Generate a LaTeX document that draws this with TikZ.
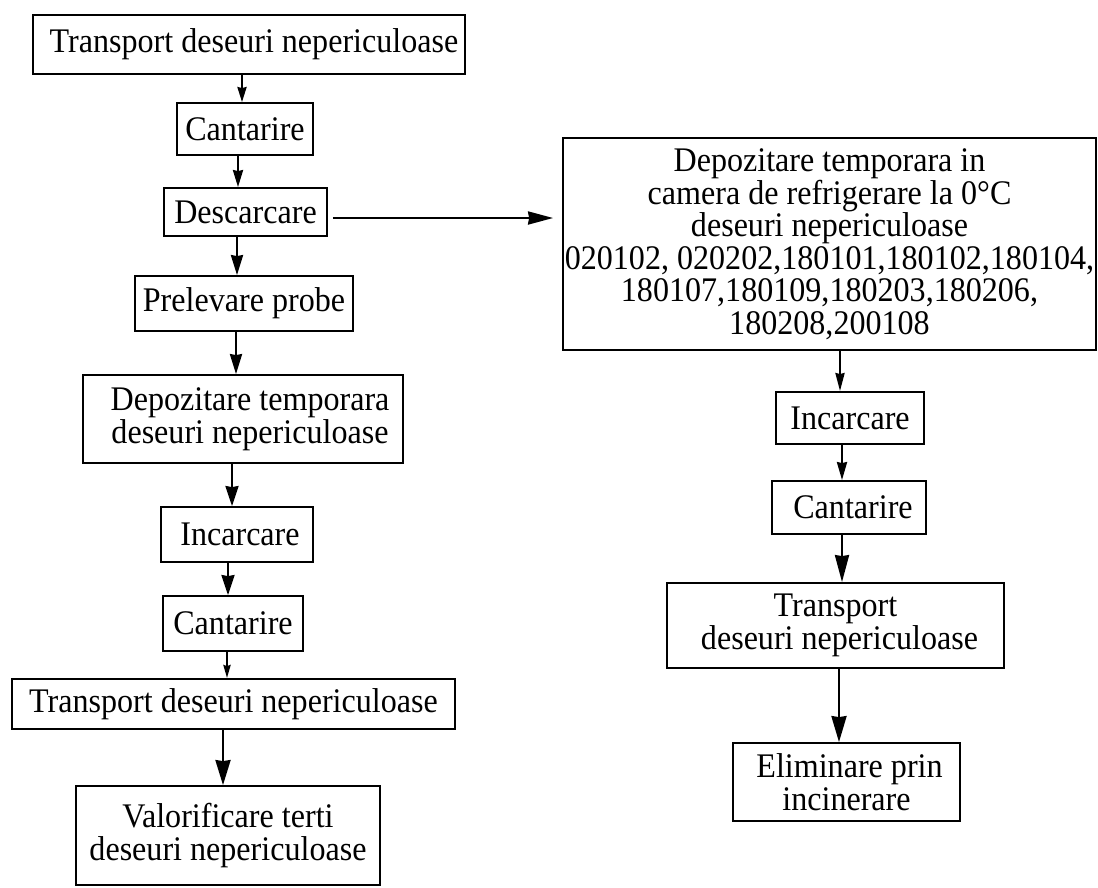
\documentclass[tikz,border=0pt]{standalone}
\usepackage{fontspec}
\setmainfont[FakeStretch=0.93]{Liberation Serif}
\usetikzlibrary{arrows.meta}
\begin{document}
\begin{tikzpicture}[x=1pt,y=-1pt,
  box/.style={draw,line width=1.8pt,rectangle,inner sep=0pt,align=center,
    font=\fontsize{34.5}{32.5}\selectfont},
  arr/.style 2 args={line width=2.4pt,-{Stealth[length=#1,width=#2,inset=1pt]}}]
\useasboundingbox (0,0) rectangle (1098,887);
% left column
\node[box,minimum width=432pt,minimum height=59pt] (t1) at (249,44.5) {\hspace*{10pt}Transport deseuri nepericuloase};
\node[box,minimum width=136pt,minimum height=52pt] (c1) at (245,129) {Cantarire};
\node[box,minimum width=163pt,minimum height=48pt] (d1) at (245.5,212) {Descarcare};
\node[box,minimum width=218pt,minimum height=55pt] (p1) at (244,303.5) {Prelevare probe};
\node[box,minimum width=320pt,minimum height=88pt] (dep) at (243,419) {\hspace*{14pt}Depozitare temporara\\\hspace*{14pt}deseuri nepericuloase};
\node[box,minimum width=152pt,minimum height=55pt] (i1) at (237,534.5) {\hspace*{6pt}Incarcare};
\node[box,minimum width=140pt,minimum height=55pt] (c2) at (233,623.5) {Cantarire};
\node[box,minimum width=443pt,minimum height=50pt] (t2) at (233.5,704) {Transport deseuri nepericuloase};
\node[box,minimum width=304pt,minimum height=99pt] (v) at (228,835.5) {Valorificare terti\\deseuri nepericuloase};
% right column
\node[box,minimum width=533pt,minimum height=212pt] (big) at (829.5,244) {Depozitare temporara in\\camera de refrigerare la 0°C\\deseuri nepericuloase\\020102, 020202,180101,180102,180104,\\180107,180109,180203,180206,\\180208,200108};
\node[box,minimum width=148pt,minimum height=52pt] (i2) at (850,418) {Incarcare};
\node[box,minimum width=154pt,minimum height=53pt] (c3) at (849,507.5) {\hspace*{8pt}Cantarire};
\node[box,minimum width=337pt,minimum height=85pt] (t3) at (835.5,625.5) {Transport\\\hspace*{8pt}deseuri nepericuloase};
\node[box,minimum width=227pt,minimum height=78pt] (e) at (846.5,782) {\hspace*{6pt}Eliminare prin\\incinerare};
% arrow x positions
\coordinate (xa) at (242,0);
\coordinate (xb) at (238,0);
\coordinate (xc) at (237,0);
\coordinate (xd) at (236,0);
\coordinate (xe) at (232,0);
\coordinate (xf) at (228,0);
\coordinate (xg) at (227,0);
\coordinate (xh) at (223,0);
\coordinate (xi) at (840,0);
\coordinate (xj) at (842,0);
\coordinate (xk) at (839,0);
\coordinate (yh) at (0,218);
% connectors
\draw[arr={15pt}{9pt}] (t1.south -| xa) -- (c1.north -| xa);
\draw[arr={17pt}{10pt}] (c1.south -| xb) -- (d1.north -| xb);
\draw[arr={20pt}{12pt}] (d1.south -| xc) -- (p1.north -| xc);
\draw[arr={20pt}{12pt}] (p1.south -| xd) -- (dep.north -| xd);
\draw[arr={20pt}{13pt}] (dep.south -| xe) -- (i1.north -| xe);
\draw[arr={20pt}{13pt}] (i1.south -| xf) -- (c2.north -| xf);
\draw[arr={13pt}{7pt}] (c2.south -| xg) -- (t2.north -| xg);
\draw[arr={25pt}{15pt}] (t2.south -| xh) -- (v.north -| xh);
\draw[arr={25pt}{13pt},shorten <=5pt,shorten >=9pt] (d1.east |- yh) -- (big.west |- yh);
\draw[arr={18pt}{9pt}] (big.south -| xi) -- (i2.north -| xi);
\draw[arr={18pt}{10pt}] (i2.south -| xj) -- (c3.north -| xj);
\draw[arr={27pt}{14pt}] (c3.south -| xj) -- (t3.north -| xj);
\draw[arr={26pt}{15pt}] (t3.south -| xk) -- (e.north -| xk);
\end{tikzpicture}
\end{document}
